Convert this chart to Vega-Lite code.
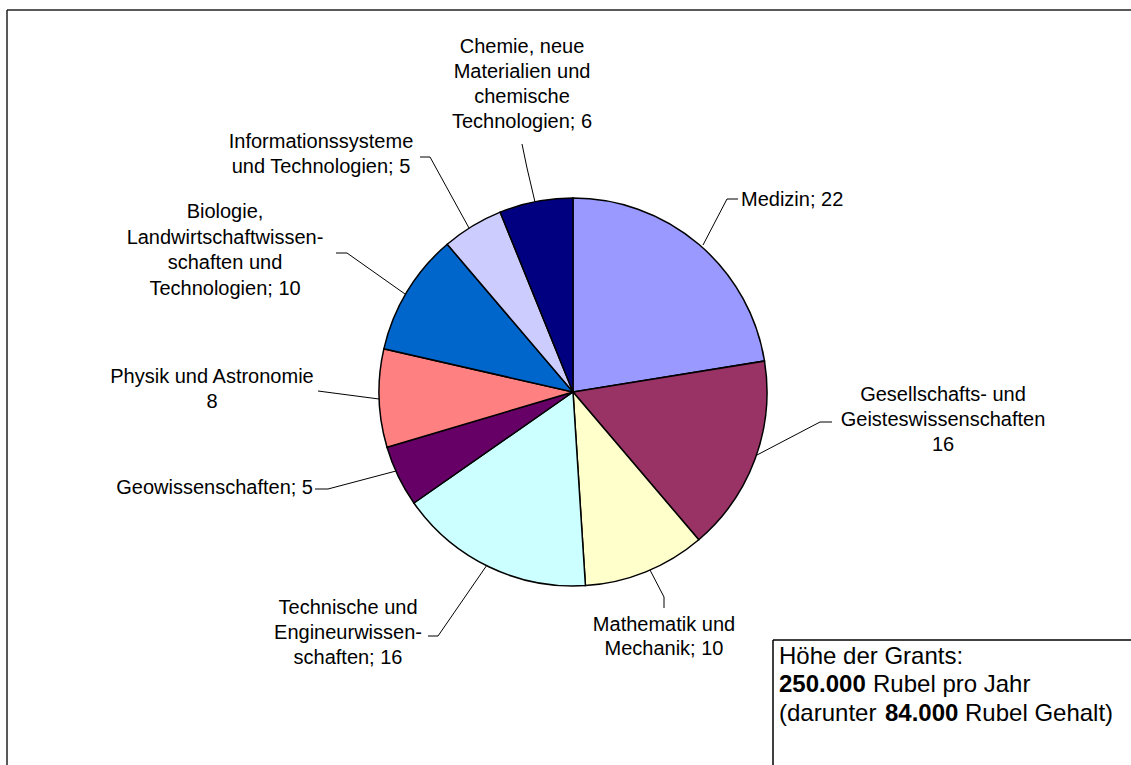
{
  "$schema": "https://vega.github.io/schema/vega-lite/v6.json",
  "width": 1131,
  "height": 765,
  "autosize": {"type": "none"},
  "padding": 0,
  "background": "white",
  "data": {"values": [
    {"fach": "Medizin", "anzahl": 22, "label": "Medizin; 22"},
    {"fach": "Gesellschafts- und Geisteswissenschaften", "anzahl": 16, "label": "Gesellschafts- und\nGeisteswissenschaften\n16"},
    {"fach": "Mathematik und Mechanik", "anzahl": 10, "label": "Mathematik und\nMechanik; 10"},
    {"fach": "Technische und Engineurwissenschaften", "anzahl": 16, "label": "Technische und\nEngineurwissen-\nschaften; 16"},
    {"fach": "Geowissenschaften", "anzahl": 5, "label": "Geowissenschaften; 5"},
    {"fach": "Physik und Astronomie", "anzahl": 8, "label": "Physik und Astronomie\n8"},
    {"fach": "Biologie, Landwirtschaftwissenschaften und Technologien", "anzahl": 10, "label": "Biologie,\nLandwirtschaftwissen-\nschaften und\nTechnologien; 10"},
    {"fach": "Informationssysteme und Technologien", "anzahl": 5, "label": "Informationssysteme\nund Technologien; 5"},
    {"fach": "Chemie, neue Materialien und chemische Technologien", "anzahl": 6, "label": "Chemie, neue\nMaterialien und\nchemische\nTechnologien; 6"}
  ]},
  "layer": [
    {
      "transform": [{"window": [{"op": "row_number", "as": "i"}]}],
      "mark": {"type": "arc", "outerRadius": 194, "stroke": "black", "strokeWidth": 1.5},
      "encoding": {
        "x": {"datum": 0, "type": "quantitative", "scale": {"domain": [-573, 558], "nice": false, "zero": false}, "axis": null},
        "y": {"datum": 0, "type": "quantitative", "scale": {"domain": [-373, 392], "nice": false, "zero": false}, "axis": null},
        "theta": {"field": "anzahl", "type": "quantitative", "stack": true},
        "order": {"field": "i", "type": "quantitative"},
        "color": {"field": "fach", "type": "nominal", "legend": null,
          "scale": {
            "domain": ["Medizin", "Gesellschafts- und Geisteswissenschaften", "Mathematik und Mechanik", "Technische und Engineurwissenschaften", "Geowissenschaften", "Physik und Astronomie", "Biologie, Landwirtschaftwissenschaften und Technologien", "Informationssysteme und Technologien", "Chemie, neue Materialien und chemische Technologien"],
            "range": ["#9999FF", "#993366", "#FFFFCC", "#CCFFFF", "#660066", "#FF8080", "#0066CC", "#CCCCFF", "#000080"]
          }}
      }
    },
    {
      "transform": [{"filter": {"field": "fach", "equal": "Medizin"}}],
      "layer": [
        {"mark": {"type": "text", "align": "left"}, "encoding": {"x": {"datum": 168}, "y": {"datum": 192}, "text": {"field": "label"}}},
        {"mark": "rule", "encoding": {"x": {"datum": 165}, "y": {"datum": 193}, "x2": {"datum": 154}, "y2": {"datum": 193}}},
        {"mark": "rule", "encoding": {"x": {"datum": 154}, "y": {"datum": 193}, "x2": {"datum": 130}, "y2": {"datum": 147}}}
      ]
    },
    {
      "transform": [{"filter": {"field": "fach", "equal": "Gesellschafts- und Geisteswissenschaften"}}],
      "layer": [
        {"mark": {"type": "text"}, "encoding": {"x": {"datum": 370}, "y": {"datum": -3}, "text": {"field": "label"}}},
        {"mark": "rule", "encoding": {"x": {"datum": 259}, "y": {"datum": -30}, "x2": {"datum": 247}, "y2": {"datum": -30}}},
        {"mark": "rule", "encoding": {"x": {"datum": 247}, "y": {"datum": -30}, "x2": {"datum": 184}, "y2": {"datum": -63}}}
      ]
    },
    {
      "transform": [{"filter": {"field": "fach", "equal": "Mathematik und Mechanik"}}],
      "layer": [
        {"mark": {"type": "text", "lineHeight": 23.5}, "encoding": {"x": {"datum": 91}, "y": {"datum": -233}, "text": {"field": "label"}}},
        {"mark": "rule", "encoding": {"x": {"datum": 91}, "y": {"datum": -216}, "x2": {"datum": 91}, "y2": {"datum": -205}}},
        {"mark": "rule", "encoding": {"x": {"datum": 91}, "y": {"datum": -205}, "x2": {"datum": 77}, "y2": {"datum": -178}}}
      ]
    },
    {
      "transform": [{"filter": {"field": "fach", "equal": "Technische und Engineurwissenschaften"}}],
      "layer": [
        {"mark": {"type": "text"}, "encoding": {"x": {"datum": -225}, "y": {"datum": -216}, "text": {"field": "label"}}},
        {"mark": "rule", "encoding": {"x": {"datum": -145}, "y": {"datum": -244}, "x2": {"datum": -135}, "y2": {"datum": -244}}},
        {"mark": "rule", "encoding": {"x": {"datum": -135}, "y": {"datum": -244}, "x2": {"datum": -86}, "y2": {"datum": -173}}}
      ]
    },
    {
      "transform": [{"filter": {"field": "fach", "equal": "Geowissenschaften"}}],
      "layer": [
        {"mark": {"type": "text", "align": "right"}, "encoding": {"x": {"datum": -260}, "y": {"datum": -96}, "text": {"field": "label"}}},
        {"mark": "rule", "encoding": {"x": {"datum": -258}, "y": {"datum": -97}, "x2": {"datum": -245}, "y2": {"datum": -97}}},
        {"mark": "rule", "encoding": {"x": {"datum": -245}, "y": {"datum": -97}, "x2": {"datum": -177}, "y2": {"datum": -79}}}
      ]
    },
    {
      "transform": [{"filter": {"field": "fach", "equal": "Physik und Astronomie"}}],
      "layer": [
        {"mark": {"type": "text"}, "encoding": {"x": {"datum": -361}, "y": {"datum": 15}, "text": {"field": "label"}}},
        {"mark": "rule", "encoding": {"x": {"datum": -255}, "y": {"datum": 1}, "x2": {"datum": -194}, "y2": {"datum": -7}}}
      ]
    },
    {
      "transform": [{"filter": {"field": "fach", "equal": "Biologie, Landwirtschaftwissenschaften und Technologien"}}],
      "layer": [
        {"mark": {"type": "text", "lineHeight": 25.7}, "encoding": {"x": {"datum": -348}, "y": {"datum": 180}, "text": {"field": "label"}}},
        {"mark": "rule", "encoding": {"x": {"datum": -237}, "y": {"datum": 139}, "x2": {"datum": -226}, "y2": {"datum": 139}}},
        {"mark": "rule", "encoding": {"x": {"datum": -226}, "y": {"datum": 139}, "x2": {"datum": -168}, "y2": {"datum": 98}}}
      ]
    },
    {
      "transform": [{"filter": {"field": "fach", "equal": "Informationssysteme und Technologien"}}],
      "layer": [
        {"mark": {"type": "text", "lineHeight": 24.5}, "encoding": {"x": {"datum": -252}, "y": {"datum": 250}, "text": {"field": "label"}}},
        {"mark": "rule", "encoding": {"x": {"datum": -153}, "y": {"datum": 235}, "x2": {"datum": -143}, "y2": {"datum": 235}}},
        {"mark": "rule", "encoding": {"x": {"datum": -143}, "y": {"datum": 235}, "x2": {"datum": -104}, "y2": {"datum": 164}}}
      ]
    },
    {
      "transform": [{"filter": {"field": "fach", "equal": "Chemie, neue Materialien und chemische Technologien"}}],
      "layer": [
        {"mark": {"type": "text"}, "encoding": {"x": {"datum": -51}, "y": {"datum": 345}, "text": {"field": "label"}}},
        {"mark": "rule", "encoding": {"x": {"datum": -51}, "y": {"datum": 248}, "x2": {"datum": -46}, "y2": {"datum": 224}}},
        {"mark": "rule", "encoding": {"x": {"datum": -46}, "y": {"datum": 224}, "x2": {"datum": -38}, "y2": {"datum": 190}}}
      ]
    },
    {
      "data": {"values": [{"rahmen": "Diagramm"}]},
      "layer": [
        {"mark": {"type": "rule", "strokeWidth": 1.5, "color": "#222222"}, "encoding": {"x": {"datum": -566}, "y": {"datum": 382}, "x2": {"datum": -566}, "y2": {"datum": -380}}},
        {"mark": {"type": "rule", "strokeWidth": 1.5, "color": "#222222"}, "encoding": {"x": {"datum": -566}, "y": {"datum": 382}, "x2": {"datum": 565}, "y2": {"datum": 382}}},
        {"mark": {"type": "rule", "strokeWidth": 1.5}, "encoding": {"x": {"datum": 200}, "y": {"datum": -248}, "x2": {"datum": 200}, "y2": {"datum": -380}}},
        {"mark": {"type": "rule", "strokeWidth": 1.5}, "encoding": {"x": {"datum": 200}, "y": {"datum": -248}, "x2": {"datum": 565}, "y2": {"datum": -248}}}
      ]
    },
    {
      "data": {"values": [{"t": "Höhe der Grants:"}]},
      "mark": {"type": "text", "align": "left", "fontSize": 24},
      "encoding": {"x": {"datum": 206}, "y": {"datum": -265}, "text": {"field": "t"}}
    },
    {
      "data": {"values": [{"t": "250.000"}]},
      "mark": {"type": "text", "align": "left", "fontSize": 24, "fontWeight": "bold"},
      "encoding": {"x": {"datum": 206}, "y": {"datum": -293}, "text": {"field": "t"}}
    },
    {
      "data": {"values": [{"t": "Rubel pro Jahr"}]},
      "mark": {"type": "text", "align": "left", "fontSize": 24},
      "encoding": {"x": {"datum": 300}, "y": {"datum": -293}, "text": {"field": "t"}}
    },
    {
      "data": {"values": [{"t": "(darunter"}]},
      "mark": {"type": "text", "align": "left", "fontSize": 24},
      "encoding": {"x": {"datum": 206}, "y": {"datum": -322}, "text": {"field": "t"}}
    },
    {
      "data": {"values": [{"t": "84.000"}]},
      "mark": {"type": "text", "align": "left", "fontSize": 24, "fontWeight": "bold"},
      "encoding": {"x": {"datum": 312}, "y": {"datum": -322}, "text": {"field": "t"}}
    },
    {
      "data": {"values": [{"t": "Rubel Gehalt)"}]},
      "mark": {"type": "text", "align": "left", "fontSize": 24},
      "encoding": {"x": {"datum": 392}, "y": {"datum": -322}, "text": {"field": "t"}}
    }
  ],
  "config": {
    "view": {"stroke": null},
    "axis": {"disable": true},
    "text": {"font": "Liberation Sans", "fontSize": 20, "lineHeight": 25, "lineBreak": "\n", "baseline": "middle", "align": "center", "color": "black"},
    "rule": {"color": "black", "strokeWidth": 1}
  }
}
